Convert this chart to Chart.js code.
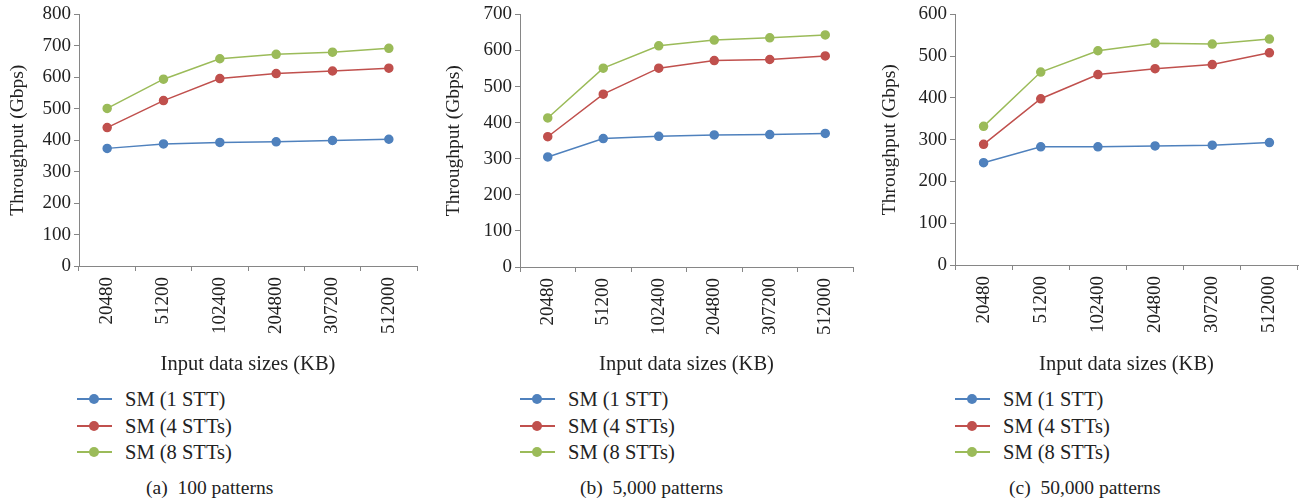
<!DOCTYPE html>
<html>
<head>
<meta charset="utf-8">
<script src="https://cdn.jsdelivr.net/npm/chart.js@4"></script>
<style>
  body { margin: 0; background: #fff; width: 1309px; height: 504px; overflow: hidden; position: relative;
         font-family: "Liberation Serif", "DejaVu Serif", serif; color: #222; }
  canvas { position: absolute; top: 0; }
  .legend { position: absolute; top: 386px; font-size: 20.5px; line-height: 26.5px; }
  .legend .row { height: 26.5px; display: flex; align-items: center; }
  .legend .mark { position: relative; width: 35px; height: 12px; margin-right: 13px; }
  .legend .mark i { position: absolute; left: 0; right: 0; top: 5px; height: 2px; }
  .legend .mark b { position: absolute; left: 12px; top: 1px; width: 10px; height: 10px; border-radius: 50%; }
  .caption { position: absolute; top: 477px; font-size: 19.5px; line-height: 22px; white-space: pre; }
</style>
</head>
<body>
<canvas id="chartA" width="436" height="380" style="left:0px"></canvas>
<canvas id="chartB" width="436" height="380" style="left:436px"></canvas>
<canvas id="chartC" width="437" height="380" style="left:872px"></canvas>

<script>
// categories
const sizes = ['20480', '51200', '102400', '204800', '307200', '512000'];
const seriesNames = ['SM (1 STT)', 'SM (4 STTs)', 'SM (8 STTs)'];
const colors = ['#4F81BD', '#C0504D', '#9BBB59'];

// (a) 100 patterns
const a1 = [374, 388, 393, 395, 399, 403];
const a4 = [440, 526, 596, 612, 620, 629];
const a8 = [501, 594, 659, 673, 680, 692];

// (b) 5,000 patterns
const b1 = [305, 356, 362, 366, 367, 370];
const b4 = [361, 479, 551, 572, 575, 585];
const b8 = [413, 551, 613, 629, 635, 643];

// (c) 50,000 patterns
const c1 = [245, 283, 283, 285, 287, 293];
const c4 = [289, 398, 456, 470, 480, 508];
const c8 = [332, 462, 513, 531, 529, 541];

const captions = ['(a)  100 patterns', '(b)  5,000 patterns', '(c)  50,000 patterns'];

const fontFamily = '"Liberation Serif", "DejaVu Serif", serif';

function makeChart(id, series, yMax, box) {
  const canvas = document.getElementById(id);
  const H = canvas.height;
  return new Chart(canvas, {
    type: 'line',
    data: {
      labels: sizes,
      datasets: series.map((vals, i) => ({
        label: seriesNames[i],
        data: vals,
        borderColor: colors[i],
        backgroundColor: colors[i],
        borderWidth: 1.5,
        pointRadius: 4,
        pointHoverRadius: 4,
        tension: 0
      }))
    },
    options: {
      responsive: false,
      animation: false,
      devicePixelRatio: 1,
      layout: { padding: { top: box.top, right: box.right, left: 0, bottom: 0 } },
      plugins: { legend: { display: false }, tooltip: { enabled: false } },
      scales: {
        x: {
          offset: true,
          grid: { offset: true, drawOnChartArea: false, drawTicks: true, tickLength: 5, color: '#868686' },
          border: { color: '#868686', width: 1 },
          ticks: { color: '#222', minRotation: 90, maxRotation: 90, padding: 6,
                   font: { family: fontFamily, size: 19 } },
          title: { display: true, text: 'Input data sizes (KB)', color: '#222', padding: { top: 0, bottom: 3 },
                   font: { family: fontFamily, size: 20.5 } },
          afterFit: (scale) => { scale.height = H - box.bottom; }
        },
        y: {
          min: 0,
          max: yMax,
          grid: { drawOnChartArea: false, drawTicks: true, tickLength: 5, color: '#868686' },
          border: { color: '#868686', width: 1 },
          ticks: { stepSize: 100, color: '#222', padding: 3, font: { family: fontFamily, size: 19 } },
          title: { display: true, text: 'Throughput (Gbps)', color: '#222', padding: { top: 6, bottom: 0 },
                   font: { family: fontFamily, size: 19.5 } },
          afterFit: (scale) => { scale.width = box.left; }
        }
      }
    }
  });
}

const charts = [
  makeChart('chartA', [a1, a4, a8], 800, { left: 79, right: 19, top: 11, bottom: 266 }),
  makeChart('chartB', [b1, b4, b8], 700, { left: 84, right: 19, top: 12, bottom: 267 }),
  makeChart('chartC', [c1, c4, c8], 600, { left: 83, right: 11, top: 10, bottom: 265 })
];

// legends and captions under each panel
const legendX = [77, 520, 955];
const captionX = [146, 580, 1009];
charts.forEach((chart, p) => {
  const lg = document.createElement('div');
  lg.className = 'legend';
  lg.style.left = legendX[p] + 'px';
  chart.data.datasets.forEach(ds => {
    const row = document.createElement('div');
    row.className = 'row';
    row.innerHTML = '<span class="mark"><i style="background:' + ds.borderColor + '"></i><b style="background:' +
      ds.borderColor + '"></b></span><span>' + ds.label + '</span>';
    lg.appendChild(row);
  });
  document.body.appendChild(lg);

  const cap = document.createElement('div');
  cap.className = 'caption';
  cap.style.left = captionX[p] + 'px';
  cap.textContent = captions[p];
  document.body.appendChild(cap);
});
</script>
</body>
</html>
